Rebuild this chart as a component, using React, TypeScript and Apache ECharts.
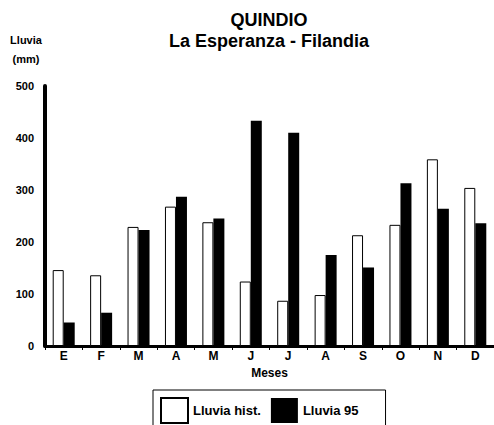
import React, { useEffect, useRef } from "react";
import * as echarts from "echarts";

const months = ["E", "F", "M", "A", "M", "J", "J", "A", "S", "O", "N", "D"];
const lluviaHist = [146, 136, 229, 268, 238, 124, 87, 98, 213, 233, 359, 304];
const lluvia95 = [45, 64, 223, 287, 245, 433, 410, 175, 151, 313, 264, 236];
const yTicks = [0, 100, 200, 300, 400, 500];

const FONT = "'Liberation Sans', Arial, sans-serif";

export default function App() {
  const ref = useRef<HTMLDivElement>(null);
  useEffect(() => {
    if (!ref.current) return;
    const chart = echarts.init(ref.current, undefined, { renderer: "svg" });
    chart.setOption({
      animation: false,
      backgroundColor: "#ffffff",
      textStyle: { fontFamily: FONT, fontWeight: "bold", color: "#000" },
      title: {
        text: "QUINDIO\nLa Esperanza - Filandia",
        left: 269,
        top: 9,
        padding: 0,
        textAlign: "center",
        textStyle: {
          fontFamily: FONT,
          fontWeight: "bold",
          fontSize: 18,
          lineHeight: 21,
          color: "#000",
        },
      },
      graphic: [
        {
          type: "text",
          x: 26,
          y: 30,
          style: {
            text: "Lluvia\n(mm)",
            fontFamily: FONT,
            fontWeight: "bold",
            fontSize: 11,
            lineHeight: 19,
            fill: "#000",
            align: "center",
            verticalAlign: "top",
          },
        },
      ],
      legend: {
        left: 153,
        top: 390,
        padding: [7, 27, 10, 7],
        borderColor: "#000",
        borderWidth: 1,
        itemWidth: 27,
        itemHeight: 25,
        itemGap: 10,
        icon: "rect",
        textStyle: {
          fontFamily: FONT,
          fontWeight: "bold",
          fontSize: 13,
          color: "#000",
        },
        data: ["Lluvia hist.", "Lluvia 95"],
      },
      grid: { left: 45, right: -1, top: 86, bottom: 79, containLabel: false },
      xAxis: {
        type: "category",
        data: months,
        name: "Meses",
        nameLocation: "middle",
        nameGap: 21,
        nameTextStyle: { fontFamily: FONT, fontWeight: "bold", fontSize: 12, color: "#000" },
        axisLine: { lineStyle: { color: "#000", width: 3 } },
        axisTick: { show: true, length: 4, interval: 0, lineStyle: { color: "#000", width: 1 } },
        axisLabel: {
          interval: 0,
          margin: 4,
          fontFamily: FONT,
          fontWeight: "bold",
          fontSize: 12,
          color: "#000",
        },
      },
      yAxis: {
        type: "value",
        min: 0,
        max: 500,
        interval: 100,
        axisLine: { show: true, lineStyle: { color: "#000", width: 4 } },
        axisTick: { show: false },
        splitLine: { show: false },
        axisLabel: {
          margin: 11,
          fontFamily: FONT,
          fontWeight: "bold",
          fontSize: 11,
          color: "#000",
          formatter: (v: number) => (yTicks.includes(v) ? String(v) : ""),
        },
      },
      series: [
        {
          name: "Lluvia hist.",
          type: "bar",
          data: lluviaHist,
          barWidth: 11,
          barGap: "0%",
          itemStyle: { color: "#ffffff", borderColor: "#000", borderWidth: 1 },
        },
        {
          name: "Lluvia 95",
          type: "bar",
          data: lluvia95,
          barWidth: 11,
          barGap: "0%",
          itemStyle: { color: "#000000" },
        },
      ],
    });
    return () => chart.dispose();
  }, []);
  return (
    <div
      ref={ref}
      style={{ position: "fixed", left: 0, top: 0, width: 494, height: 425, background: "#fff" }}
    />
  );
}
